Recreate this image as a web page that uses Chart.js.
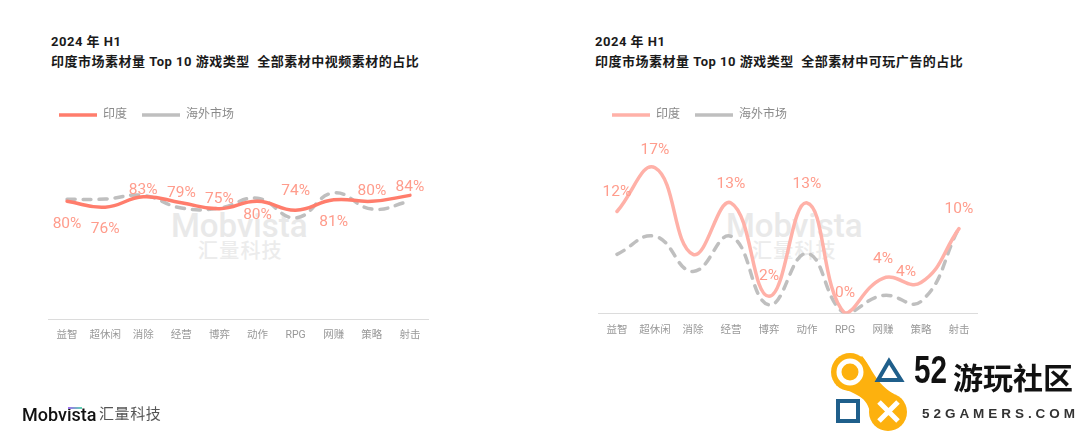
<!DOCTYPE html>
<html lang="zh">
<head>
<meta charset="utf-8">
<script src="https://cdn.jsdelivr.net/npm/chart.js@4"></script>
<style>
html,body{margin:0;padding:0;background:#fff;width:1080px;height:433px;overflow:hidden;font-family:Roboto,"Noto Sans CJK SC",sans-serif}
.abs{position:absolute;white-space:nowrap}
canvas{position:absolute}
.title{font-size:13px;font-weight:700;line-height:20px;color:#1a1a1a;letter-spacing:.5px}
.wm1{font-size:33px;font-weight:500;color:#e9e9e9;line-height:36px}
.wm2{font-size:20px;font-weight:500;color:#ececec;letter-spacing:1.2px;line-height:24px}
</style>
</head>
<body>
<div class="abs title" style="left:51px;top:32px">2024 年 H1<br>印度市场素材量 Top 10 游戏类型&nbsp; 全部素材中视频素材的占比</div>
<div class="abs title" style="left:595px;top:32px">2024 年 H1<br>印度市场素材量 Top 10 游戏类型&nbsp; 全部素材中可玩广告的占比</div>
<div class="abs wm1" style="left:171px;top:208px">Mobvista</div>
<div class="abs wm2" style="left:198px;top:239px">汇量科技</div>
<div class="abs wm1" style="left:726px;top:208px">Mobvista</div>
<div class="abs wm2" style="left:752px;top:239px">汇量科技</div>

<canvas id="left" style="left:44px;top:0" width="385" height="433"></canvas>
<canvas id="right" style="left:597px;top:0" width="381" height="433"></canvas>

<div class="abs" style="left:22px;top:404px;font-size:18px;font-weight:500;color:#111;line-height:22px">Mobvista</div>
<div class="abs" style="left:68px;top:407px;width:14px;height:2px;background:linear-gradient(90deg,#a06cf0,#5fd8b0)"></div>
<div class="abs" style="left:99px;top:404px;font-size:15px;color:#555;letter-spacing:.6px;line-height:20px">汇量科技</div>

<svg class="abs" style="left:820px;top:340px" width="260" height="93" viewBox="0 0 260 93">
  <circle cx="30" cy="32" r="19" fill="#fdb10e"/>
  <circle cx="68" cy="72" r="19" fill="#fdb10e"/>
  <path d="M42 16 C52 28 56 44 74 54 L50 72 C46 54 32 54 16 45Z" fill="#fdb10e"/>
  <circle cx="30" cy="32" r="11" fill="none" stroke="#fff" stroke-width="5"/>
  <path d="M69 21 L81 40 L58 40Z" fill="none" stroke="#1f5f8b" stroke-width="4"/>
  <rect x="18" y="61" width="20" height="20" fill="none" stroke="#1f5f8b" stroke-width="4"/>
  <path d="M59 62 L78 81 M78 62 L59 81" stroke="#fff" stroke-width="5"/>
  <text x="94" y="43" font-family="Liberation Sans" font-weight="700" font-size="38" fill="#111" textLength="33" lengthAdjust="spacingAndGlyphs">52</text>
  <text x="133" y="49" font-family="Noto Sans CJK SC" font-weight="700" font-size="30" fill="#111">游玩社区</text>
  <text x="102" y="78" font-family="Liberation Sans" font-weight="700" font-size="13.5" fill="#333" textLength="153">52GAMERS.COM</text>
</svg>

<script>
const categories = ['益智','超休闲','消除','经营','博弈','动作','RPG','网赚','策略','射击'];
const seriesNames = ['印度','海外市场'];

const videoIndia = [80,76,83,79,75,80,74,81,80,84];
const videoOverseas = [81.3,81.5,84,75.4,75.4,82,68.8,85.7,74.7,80];
const videoLabels = ['80%','76%','83%','79%','75%','80%','74%','81%','80%','84%'];

const playableIndia = [11.9,17,6.9,12.9,2,12.9,0,4.1,3.6,9.9];
const playableOverseas = [6.9,9,4.9,9,1,7,0,2.1,1.4,10];
const playableLabels = ['12%','17%',null,'13%','2%','13%','0%','4%','4%','10%'];

Chart.defaults.font.family = 'Roboto,"Noto Sans CJK SC",sans-serif';

const pointLabels = {
  id:'pointLabels',
  afterDatasetsDraw(chart,args,opts){
    const {ctx} = chart;
    const pts = chart.getDatasetMeta(0).data;
    ctx.save();
    ctx.font = '15.5px Roboto,"Noto Sans CJK SC",sans-serif';
    ctx.fillStyle = opts.color;
    ctx.textAlign = 'center';
    ctx.textBaseline = 'middle';
    opts.texts.forEach((t,i)=>{
      if(t===null) return;
      ctx.fillText(t, pts[i].x+(opts.dx?opts.dx[i]:0), pts[i].y+opts.dy[i]);
    });
    ctx.restore();
  }
};

function build(id,india,overseas,color,yMax,bottomPad,tickPad,axisInset,labelOpts){
  return new Chart(document.getElementById(id),{
    type:'line',
    plugins:[pointLabels],
    data:{labels:categories,datasets:[
      {label:seriesNames[0],data:india,borderColor:color,backgroundColor:color,borderWidth:3.5,tension:.45,pointRadius:0,borderCapStyle:'round'},
      {label:seriesNames[1],data:overseas,borderColor:'#bfbfbf',backgroundColor:'#bfbfbf',borderWidth:3.5,borderDash:[8,8],tension:.45,pointRadius:0,borderCapStyle:'round'}
    ]},
    options:{
      responsive:false,animation:false,
      layout:{padding:{top:94,bottom:bottomPad,left:0,right:0}},
      scales:{
        x:{offset:true,grid:{display:false},border:{color:'#dcdcdc',width:1},
           ticks:{color:'#999999',font:{size:10.5},padding:tickPad,maxRotation:0,autoSkip:false}},
        y:{min:0,max:yMax,display:true,grid:{display:false},border:{display:false},ticks:{display:false},
           afterFit(s){s.width=axisInset;}}
      },
      plugins:{
        title:{display:false},tooltip:{enabled:false},
        legend:{display:true,position:'top',align:'start',
          labels:{usePointStyle:true,pointStyle:'line',pointStyleWidth:38,padding:15,color:'#8a8a8a',font:{size:12}}},
        pointLabels:labelOpts
      }
    }
  });
}

build('left',videoIndia,videoOverseas,'#ff7d6c',127.6,89,2,4,{
  texts:videoLabels,color:'#ff9c8c',
  dy:[23,22,-7,-10,-10,14,-19,22,-10,-8]
});
build('right',playableIndia,playableOverseas,'#ffb1a8',21.3,93,3,1,{
  texts:playableLabels,color:'#ff9c8c',
  dy:[-19,-18,0,-19,-20,-19,-20,-19,-10,-19],
  dx:[0,0,0,0,0,0,0,0,-15,0]
});
</script>
</body>
</html>
